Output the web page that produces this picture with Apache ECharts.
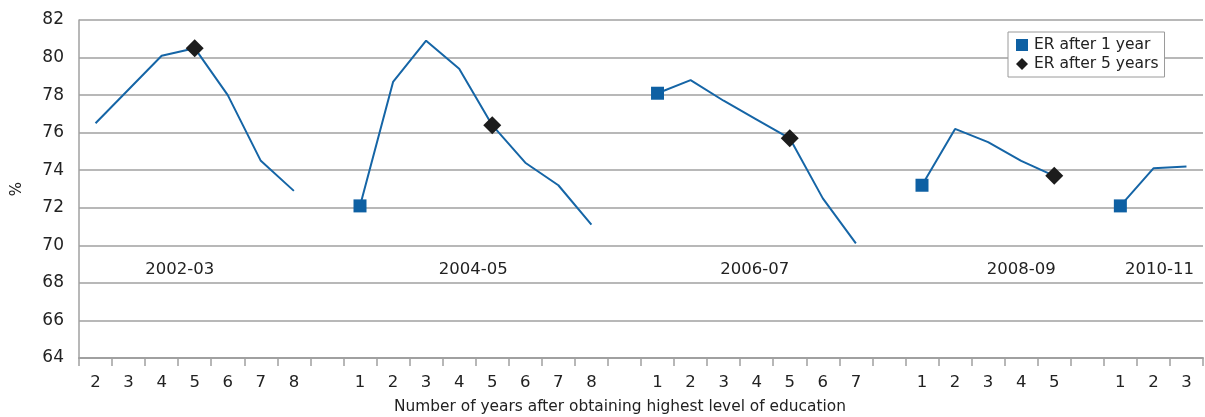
<!DOCTYPE html>
<html>
<head>
<meta charset="utf-8">
<script src="https://cdn.jsdelivr.net/npm/echarts@6/dist/echarts.min.js"></script>
<style>
html,body{margin:0;padding:0;background:#fff;}
#chart{width:1205px;height:417px;}
</style>
</head>
<body>
<div id="chart"></div>
<script>
// ---- data ----
const groupNames = ['2002-03', '2004-05', '2006-07', '2008-09', '2010-11'];
const groupYears = [
  ['2', '3', '4', '5', '6', '7', '8'],
  ['1', '2', '3', '4', '5', '6', '7', '8'],
  ['1', '2', '3', '4', '5', '6', '7'],
  ['1', '2', '3', '4', '5'],
  ['1', '2', '3']
];
const values2002 = [76.5, 78.3, 80.1, 80.5, 78.0, 74.5, 72.9];
const values2004 = [72.1, 78.7, 80.9, 79.4, 76.4, 74.4, 73.2, 71.1];
const values2006 = [78.1, 78.8, 77.7, 76.7, 75.7, 72.5, 70.1];
const values2008 = [73.2, 76.2, 75.5, 74.5, 73.7];
const values2010 = [72.1, 74.1, 74.2];
const yTicks = [64, 66, 68, 70, 72, 74, 76, 78, 80, 82];
const labelLevel = 68.7;
const labelYear = ['5', '5', '4', '4', '2'];   // category near which each group name sits

// ---- build category axis (with a blank slot between groups) ----
const groupValues = [values2002, values2004, values2006, values2008, values2010];
const categories = [];
const lineData = [];
const after1 = [];
const after5 = [];
const groupLabelData = [];
groupYears.forEach((yrs, g) => {
  if (g > 0) { categories.push(''); lineData.push(null); }
  yrs.forEach((yr, i) => {
    const idx = categories.length;
    categories.push(yr);
    lineData.push(groupValues[g][i]);
    if (yr === '1') after1.push([idx, groupValues[g][i]]);
    if (yr === '5') after5.push([idx, groupValues[g][i]]);
    if (yr === labelYear[g]) groupLabelData.push({ value: [idx, labelLevel], name: groupNames[g] });
  });
});
const labelOffsets = [[-15, 0], [-19, 0], [-2, 0], [0, 0], [6, 0]];
groupLabelData.forEach((d, i) => { d.label = { offset: labelOffsets[i] }; });

const FONT = 'DejaVu Sans';
const TXT = '#222222';
const chart = echarts.init(document.getElementById('chart'), null, { renderer: 'canvas' });
chart.setOption({
  animation: false,
  textStyle: { fontFamily: FONT },
  grid: { left: 79, right: 2, top: 20, bottom: 59, containLabel: false, outerBoundsMode: 'none' },
  legend: {
    orient: 'vertical',
    left: 1008, top: 32,
    data: ['ER after 1 year', 'ER after 5 years'],
    borderColor: '#9a9a9a', borderWidth: 1, backgroundColor: '#fff',
    padding: [5, 6, 5, 8],
    itemGap: 3, itemWidth: 12, itemHeight: 12,
    textStyle: { fontFamily: FONT, fontSize: 15.5, color: TXT, padding: [0, 0, 0, 1] }
  },
  xAxis: {
    type: 'category',
    data: categories,
    boundaryGap: true,
    name: 'Number of years after obtaining highest level of education',
    nameLocation: 'middle',
    nameGap: 41,
    nameTextStyle: { fontFamily: FONT, fontSize: 15.4, color: TXT, padding: [0, 42, 0, 0] },
    axisLine: { lineStyle: { color: '#a0a0a0', width: 2 } },
    axisTick: { show: true, interval: 0, length: 8, lineStyle: { color: '#a0a0a0', width: 1.5 } },
    axisLabel: { interval: 0, fontFamily: FONT, fontSize: 16.5, color: TXT, margin: 16 },
    splitLine: { show: false }
  },
  yAxis: {
    type: 'value',
    min: yTicks[0], max: yTicks[yTicks.length - 1], interval: 2,
    name: '%',
    nameLocation: 'middle',
    nameGap: 54,
    nameRotate: 90,
    nameTextStyle: { fontFamily: FONT, fontSize: 15, color: TXT },
    axisLine: { show: true, lineStyle: { color: '#a0a0a0', width: 1.5 } },
    axisTick: { show: false },
    axisLabel: { fontFamily: FONT, fontSize: 17, color: TXT, margin: 15 },
    splitLine: { show: true, lineStyle: { color: '#a0a0a0', width: 1.5 } }
  },
  series: [
    {
      name: 'ER',
      type: 'line',
      data: lineData,
      connectNulls: false,
      showSymbol: false,
      symbol: 'none',
      lineStyle: { color: '#1565a6', width: 2 },
      z: 2
    },
    {
      name: 'ER after 1 year',
      type: 'scatter',
      data: after1,
      symbol: 'rect',
      symbolSize: 13,
      itemStyle: { color: '#0e60a3', opacity: 1 },
      z: 3
    },
    {
      name: 'ER after 5 years',
      type: 'scatter',
      data: after5,
      symbol: 'diamond',
      symbolSize: [18, 18],
      itemStyle: { color: '#1c1c1c', opacity: 1 },
      z: 3
    },
    {
      name: 'groups',
      type: 'scatter',
      data: groupLabelData,
      symbolSize: 0,
      silent: true,
      itemStyle: { opacity: 1 },
      label: {
        show: true,
        position: 'inside',
        formatter: p => p.name,
        fontFamily: FONT, fontSize: 16.5, color: TXT
      },
      z: 4
    }
  ]
});
</script>
</body>
</html>
